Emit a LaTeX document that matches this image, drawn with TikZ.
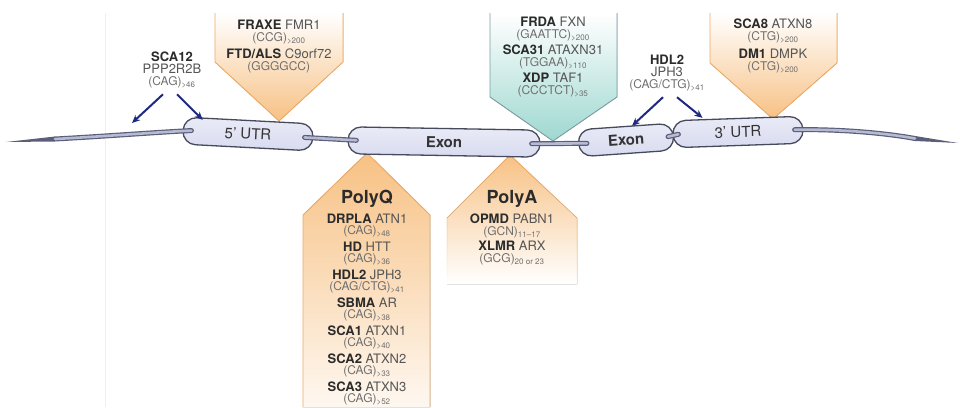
\documentclass[tikz,border=0pt]{standalone}
\usepackage{fontspec}
\setmainfont{TeX Gyre Heros}
\usepackage{xcolor}
\usepackage{tikz}
\usetikzlibrary{arrows.meta,positioning,fadings}

\definecolor{orangeEdge}{HTML}{EDAA66}
\definecolor{orangeFill}{HTML}{F7C184}
\definecolor{tealEdge}{HTML}{7E9CA6}
\definecolor{tealFill}{HTML}{9ED8D0}
\definecolor{capsuleFill}{HTML}{D8DBF0}
\definecolor{capsuleEdge}{HTML}{464A5C}
\definecolor{tubeOuter}{HTML}{5A5E78}
\definecolor{tubeInner}{HTML}{B6BAD2}
\definecolor{arrowBlue}{HTML}{1E2A80}
\definecolor{nameGray}{HTML}{2B2B2B}
\definecolor{geneGray}{HTML}{555555}
\definecolor{repeatGray}{HTML}{707070}

\newcommand{\dsn}[2]{{\color{nameGray}\bfseries #1} {\color{geneGray}#2}}
\newcommand{\rpt}[2]{{\color{repeatGray}\fontsize{12}{11}\selectfont(#1)\textsubscript{#2}}}
\setlength{\lineskiplimit}{-20pt}

\begin{document}
\begin{tikzpicture}[x=1pt, y=-1pt, >=Stealth,
capsule/.style={draw=capsuleEdge, line width=1.3pt, rounded corners=13pt, minimum height=27pt, inner sep=0pt, top color=white!45!capsuleFill, bottom color=capsuleFill, text=black!80, font=\fontsize{15}{15}\selectfont},
exonbox/.style={capsule, font=\bfseries\fontsize{15}{15}\selectfont},
tube/.style={draw=tubeOuter, line width=1.2pt, double=tubeInner, double distance=2.6pt, line cap=round},
pointer/.style={draw=arrowBlue, line width=2pt, -{Stealth[length=8pt,width=7pt]}},
callout/.style={align=center, inner sep=0pt, font=\fontsize{13}{12}\selectfont},
listing/.style={align=center, inner sep=0pt, font=\fontsize{13}{11}\selectfont},
title/.style={inner sep=0pt, text=nameGray, font=\bfseries\fontsize{18}{18}\selectfont},
site/.style={align=center, inner sep=0pt, text=nameGray, font=\fontsize{13}{12}\selectfont}]
\useasboundingbox (0,0) rectangle (960,407);
% faint edge of the neighbouring panel
\draw[black!6, line width=1pt] (105,13) -- (105,407);

% callouts above the gene
\fill[top color=white, bottom color=orangeFill] (215,13) -- (215,62) -- (279,121) -- (343,62) -- (343,13) -- cycle;
\draw[orangeEdge, line width=0.9pt] (215,13) -- (215,62) -- (279,121) -- (343,62) -- (343,13);
\fill[top color=white, bottom color=tealFill] (490,13) -- (490,97) -- (553,141) -- (617,97) -- (617,13) -- cycle;
\draw[tealEdge, line width=0.9pt] (490,13) -- (490,97) -- (553,141) -- (617,97) -- (617,13);
\fill[top color=white, bottom color=orangeFill] (710,13) -- (710,63) -- (773,119) -- (837,63) -- (837,13) -- cycle;
\draw[orangeEdge, line width=0.9pt] (710,13) -- (710,63) -- (773,119) -- (837,63) -- (837,13);

% callouts below the gene
\fill[top color=orangeFill, bottom color=orangeFill!12] (303,407) -- (303,215) -- (367,153) -- (430,215) -- (430,407) -- cycle;
\draw[orangeEdge, line width=0.9pt] (303,407) -- (303,215) -- (367,153) -- (430,215) -- (430,407);
\fill[top color=orangeFill, bottom color=white] (447,284) -- (447,218) -- (510,155) -- (577,218) -- (577,284) -- cycle;
\draw[orangeEdge, line width=0.9pt, path fading=south] (447,284) -- (447,218) -- (510,155) -- (577,218) -- (577,284);

\node[callout] (fraxe) at (279,47) {\dsn{FRAXE}{FMR1}\\\rpt{CCG}{>200}\\[5pt]\dsn{FTD/ALS}{C9orf72}\\\rpt{GGGGCC}{}};
\node[callout] (frda) at (553,57) {\dsn{FRDA}{FXN}\\\rpt{GAATTC}{>200}\\[4pt]\dsn{SCA31}{ATAXN31}\\\rpt{TGGAA}{>110}\\[4pt]\dsn{XDP}{TAF1}\\\rpt{CCCTCT}{>35}};
\node[callout] (sca8) at (773,46) {\dsn{SCA8}{ATXN8}\\\rpt{CTG}{>200}\\[6pt]\dsn{DM1}{DMPK}\\\rpt{CTG}{>200}};

\node[title] (polyq) at (367,199) {PolyQ};
\node[listing, below=6pt of polyq] (polyqlist) {\dsn{DRPLA}{ATN1}\\\rpt{CAG}{>48}\\[6pt]\dsn{HD}{HTT}\\\rpt{CAG}{>36}\\[6pt]\dsn{HDL2}{JPH3}\\\rpt{CAG/CTG}{>41}\\[6pt]\dsn{SBMA}{AR}\\\rpt{CAG}{>38}\\[6pt]\dsn{SCA1}{ATXN1}\\\rpt{CAG}{>40}\\[6pt]\dsn{SCA2}{ATXN2}\\\rpt{CAG}{>33}\\[6pt]\dsn{SCA3}{ATXN3}\\\rpt{CAG}{>52}};
\node[title] (polya) at (512,199) {PolyA};
\node[callout, below=6pt of polya] (polyalist) {\dsn{OPMD}{PABN1}\\\rpt{GCN}{11--17}\\[3pt]\dsn{XLMR}{ARX}\\\rpt{GCG}{20 or 23}};

% gene
\node[capsule, minimum width=130pt, rotate=-3] (utr5) at (248,134) {5’ UTR};
\node[exonbox, minimum width=192pt, rotate=-1] (exon1) at (444,142) {Exon};
\node[exonbox, minimum width=95pt, rotate=4] (exon2) at (626,140) {Exon};
\node[capsule, minimum width=130pt, rotate=2] (utr3) at (738,132) {3’ UTR};

\coordinate (chrLtip) at (6,142);
\coordinate (chrL) at (55,139);
\coordinate (chrR) at (915,138.5);
\coordinate (chrRtip) at (958,143);
\fill[tubeOuter] (chrLtip) -- ([yshift=2.5pt]chrL) -- ([yshift=-2.5pt]chrL) -- cycle;
\fill[tubeOuter] (chrRtip) -- ([yshift=2.5pt]chrR) -- ([yshift=-2.5pt]chrR) -- cycle;
\draw[tube] (chrL) .. controls (110,136) and (160,132) .. ([xshift=9pt]utr5.west);
\draw[tube] ([xshift=-9pt]utr5.east) -- ([xshift=9pt]exon1.west);
\draw[tube] ([xshift=-9pt]exon1.east) -- ([xshift=9pt]exon2.west);
\draw[tube] ([xshift=-6pt]exon2.east) -- ([xshift=6pt]utr3.west);
\draw[tube] ([xshift=-9pt]utr3.east) .. controls (840,129) and (885,133) .. (chrR);

% repeats that sit beside the coding region
\node[site] (sca12) at (172,70) {\textbf{SCA12}\\{\color{geneGray}PPP2R2B}\\\rpt{CAG}{>46}};
\node[site] (hdl2) at (667,73) {\textbf{HDL2}\\{\color{geneGray}JPH3}\\\rpt{CAG/CTG}{>41}};
\coordinate (sca12L) at (132,123);
\draw[pointer] ([shift={(-9,6)}]sca12.south) -- (sca12L);
\draw[pointer] ([shift={(5,6)}]sca12.south) -- ([xshift=-46pt]utr5.north);
\draw[pointer] ([shift={(-4,6)}]hdl2.south) -- ([xshift=7pt]exon2.north);
\draw[pointer] ([shift={(10,6)}]hdl2.south) -- ([xshift=-35pt]utr3.north);
\end{tikzpicture}
\end{document}
